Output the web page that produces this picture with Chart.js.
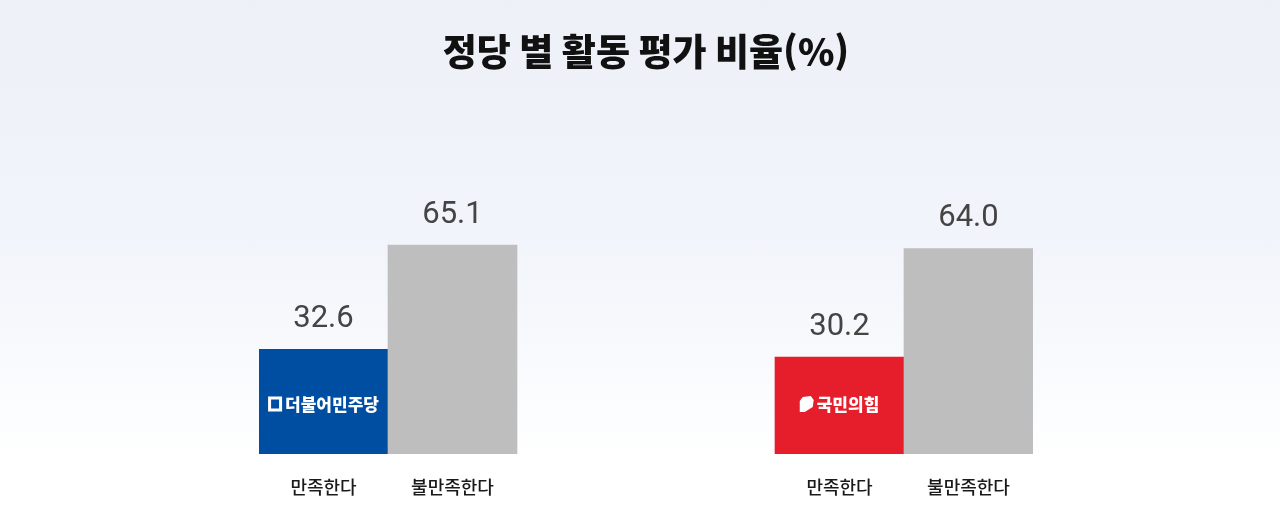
<!DOCTYPE html>
<html lang="ko">
<head>
<meta charset="utf-8">
<script src="https://cdn.jsdelivr.net/npm/chart.js@4"></script>
<style>
    html, body { margin: 0; padding: 0; }
    body {
        width: 1280px;
        height: 515px;
        background: linear-gradient(180deg, #edf0f7 0%, #f1f4fa 45%, #f8fafd 70%, #ffffff 90%);
    }
    #wrap { width: 1280px; height: 515px; position: relative; }
</style>
</head>
<body>
<div id="wrap"><canvas id="partyChart"></canvas></div>
<script>
// Data
const categories = ["만족한다", "불만족한다", "", "", "만족한다", "불만족한다"];
const values = [32.6, 65.1, null, null, 30.2, 64.0];
const barColors = ["#004ea2", "#bebebe", "#bebebe", "#bebebe", "#e61e2b", "#bebebe"];
const partyNames = ["더불어민주당", null, null, null, "국민의힘", null];

// value labels above bars + party name inside bars
const barTextPlugin = {
    id: "barText",
    afterDatasetsDraw(chart) {
        const ctx = chart.ctx;
        const meta = chart.getDatasetMeta(0);
        meta.data.forEach((bar, i) => {
            if (values[i] === null) return;
            ctx.save();
            ctx.fillStyle = "#444444";
            ctx.font = "400 31px Roboto, 'Noto Sans', sans-serif";
            ctx.textAlign = "center";
            ctx.textBaseline = "middle";
            ctx.fillText(values[i].toFixed(1), bar.x, bar.y - 30);

            const name = partyNames[i];
            if (name) {
                const cy = bar.base - 50;
                ctx.font = "900 17px 'Noto Sans CJK KR', sans-serif";
                const tw = ctx.measureText(name).width;
                const iconW = 14;
                const gap = 3;
                const left = bar.x - (tw + iconW + gap) / 2;
                ctx.fillStyle = "#ffffff";
                ctx.strokeStyle = "#ffffff";
                if (i === 0) {
                    ctx.lineWidth = 3;
                    ctx.strokeRect(left + 1.5, cy - 6, iconW - 3, 12);
                } else {
                    ctx.beginPath();
                    ctx.moveTo(left + 3, cy - 7);
                    ctx.lineTo(left + iconW - 3, cy - 8);
                    ctx.lineTo(left + iconW, cy - 4);
                    ctx.lineTo(left + iconW - 1, cy + 3);
                    ctx.lineTo(left + 5, cy + 8);
                    ctx.lineTo(left, cy + 8);
                    ctx.lineTo(left, cy - 3);
                    ctx.closePath();
                    ctx.fill();
                }
                ctx.textAlign = "left";
                ctx.fillText(name, left + iconW + gap, cy + 1);
            }
            ctx.restore();
        });
    },
};

new Chart(document.getElementById("partyChart"), {
    type: "bar",
    data: {
        labels: categories,
        datasets: [
            {
                data: values,
                backgroundColor: barColors,
                borderWidth: 0,
                barPercentage: 1,
                categoryPercentage: 1,
            },
        ],
    },
    options: {
        responsive: true,
        maintainAspectRatio: false,
        animation: false,
        layout: {
            padding: { left: 259, right: 247, top: 0, bottom: 0 },
        },
        plugins: {
            legend: { display: false },
            tooltip: { enabled: false },
            title: {
                display: true,
                text: "정당 별 활동 평가 비율(%)",
                color: "#111111",
                font: { family: "'Noto Sans CJK KR', sans-serif", size: 37, weight: "900" },
                padding: { top: 30, bottom: 58.6 },
            },
        },
        scales: {
            x: {
                grid: { display: false, drawTicks: false },
                border: { display: false },
                ticks: {
                    color: "#1a1a1a",
                    padding: 22,
                    font: { family: "'Noto Sans CJK KR', sans-serif", size: 18, weight: "500" },
                },
                afterFit: function (scale) {
                    scale.height = 61;
                },
            },
            y: {
                display: false,
                min: 0,
                max: 100,
            },
        },
    },
    plugins: [barTextPlugin],
});
</script>
</body>
</html>
